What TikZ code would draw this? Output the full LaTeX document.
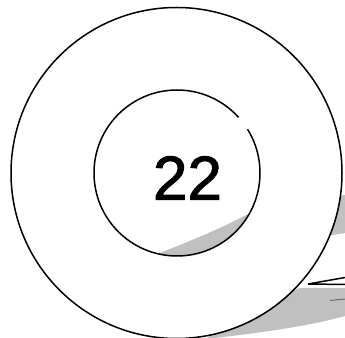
\documentclass[tikz,border=0pt]{standalone}
\usepackage{fontspec}
\setmainfont{Liberation Sans}
\usetikzlibrary{positioning}
\definecolor{shadegray}{RGB}{192,192,192}
\definecolor{strokegray}{RGB}{110,110,110}

\begin{document}
\begin{tikzpicture}[
    x=1pt, y=1pt,
    ring/.style={draw=black, circle, line width=1.5pt, inner sep=0pt},
    shade/.style={fill=shadegray},
    edge/.style={draw=black, line width=1.5pt}
  ]
    \useasboundingbox (0,0) rectangle (345,337);
    % shadow behind the rings
    \fill[shade] (205,-2) .. controls (280,6) and (320,14) .. (345,21)
      -- (345,49) -- (300,49) -- (250,30) -- cycle;
    \fill[shade] (320,140) -- (345,142) -- (345,104) -- (320,100) -- cycle;
    \node[ring, fill=white, minimum size=331pt] (outer) at (176.5,164) {};
    \begin{scope}
      \clip (177,164) circle (83);
      \fill[shade] (160,84) .. controls (190,96) and (220,108) .. (248,123)
        -- (270,123) -- (270,60) -- (140,60) -- cycle;
    \end{scope}
    \node[ring, minimum size=166pt] (inner) at (177,164) {};
    \draw[white, line width=3.2pt] ([shift={(32:83)}]inner.center) arc (32:42:83);
    \node (num) at (187.5,159) {\fontsize{62}{72}\selectfont\addfontfeature{FakeBold=1.6}22};
    % cut line at the right edge
    \coordinate (tip) at (308,53);
    \coordinate (edgetop) at (345,59.5);
    \coordinate (edgelow) at (345,52.5);
    \draw[edge] (edgetop) -- (tip) -- (edgelow);
    \coordinate (mark1) at (330,36.5);
    \coordinate (mark2) at (345,38);
    \draw[strokegray, line width=1pt] (mark1) -- (mark2);
  \end{tikzpicture}
\end{document}
